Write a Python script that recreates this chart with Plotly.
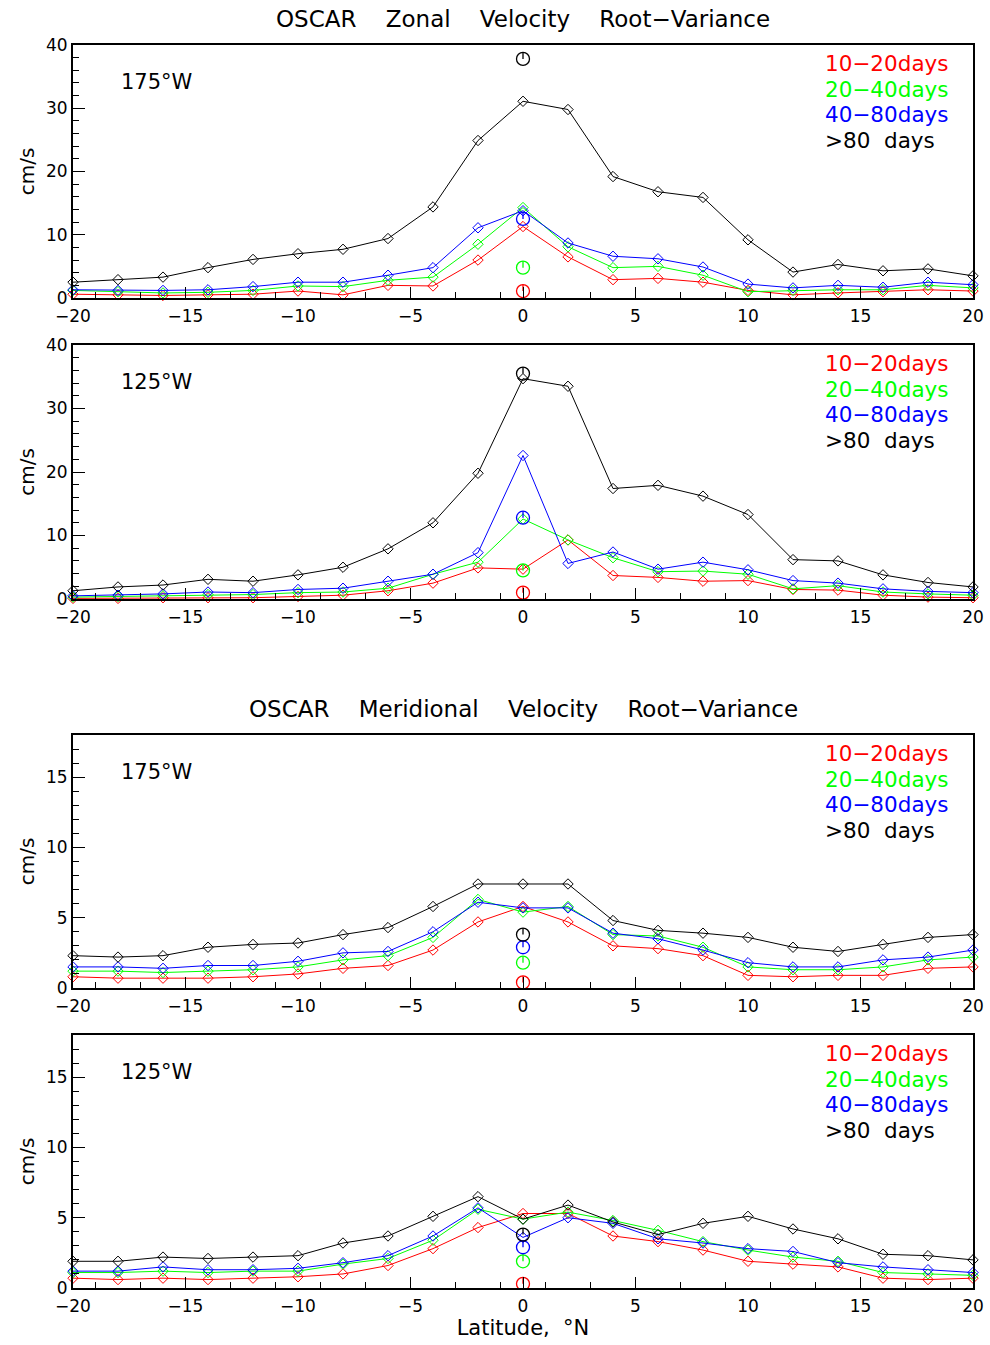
import plotly.graph_objects as go

# ---------------- data ----------------
lat = [-20, -18, -16, -14, -12, -10, -8, -6, -4, -2, 0, 2, 4, 6, 8, 10, 12, 14, 16, 18, 20]

series_names = ["10\u221220days", "20\u221240days", "40\u221280days", ">80\u00a0\u00a0days"]
series_colors = ["#ff0000", "#00ff00", "#0000ff", "#000000"]

# Zonal velocity root-variance, 175W (cm/s)
u175_10_20 = [0.6, 0.5, 0.4, 0.5, 0.6, 1.1, 0.5, 2.0, 1.9, 6.0, 11.3, 6.5, 2.9, 3.1, 2.5, 1.2, 0.5, 0.8, 1.0, 1.3, 1.1]
u175_20_40 = [1.2, 1.0, 0.8, 0.9, 1.2, 1.9, 1.8, 2.8, 3.3, 8.5, 14.3, 8.1, 4.8, 5.0, 3.6, 1.0, 1.2, 1.3, 1.3, 2.0, 1.6]
u175_40_80 = [1.3, 1.2, 1.2, 1.3, 1.8, 2.5, 2.5, 3.6, 4.8, 11.1, 13.8, 8.7, 6.6, 6.2, 4.9, 2.2, 1.6, 2.0, 1.7, 2.5, 2.1]
u175_gt80 = [2.5, 2.9, 3.3, 4.8, 6.1, 7.0, 7.7, 9.4, 14.4, 24.9, 31.1, 29.8, 19.2, 16.8, 15.9, 9.2, 4.1, 5.3, 4.3, 4.6, 3.5]
u175_eq_obs = [1.1, 4.8, 12.5, 37.8]

# Zonal velocity root-variance, 125W (cm/s)
u125_10_20 = [0.1, 0.1, 0.2, 0.2, 0.2, 0.4, 0.6, 1.3, 2.5, 4.9, 4.7, 9.3, 3.7, 3.4, 2.8, 2.9, 1.5, 1.4, 0.6, 0.3, 0.2]
u125_20_40 = [0.3, 0.4, 0.5, 0.7, 0.7, 1.0, 1.1, 1.7, 3.9, 5.8, 12.6, 9.3, 6.5, 4.3, 4.4, 3.9, 1.6, 2.1, 1.1, 0.8, 0.6]
u125_40_80 = [0.5, 0.6, 0.8, 1.1, 1.0, 1.5, 1.7, 2.8, 3.9, 7.3, 22.6, 5.6, 7.4, 4.7, 5.8, 4.6, 2.9, 2.5, 1.6, 1.2, 1.0]
u125_gt80 = [1.3, 1.9, 2.2, 3.1, 2.8, 3.8, 5.0, 7.9, 12.0, 19.8, 34.7, 33.5, 17.4, 17.9, 16.2, 13.3, 6.2, 6.0, 3.8, 2.6, 1.9]
u125_eq_obs = [1.0, 4.5, 12.8, 35.5]

# Meridional velocity root-variance, 175W (cm/s)
v175_10_20 = [0.8, 0.7, 0.7, 0.7, 0.8, 1.0, 1.4, 1.6, 2.7, 4.7, 5.8, 4.7, 3.0, 2.8, 2.3, 0.9, 0.8, 0.9, 0.9, 1.4, 1.5]
v175_20_40 = [1.2, 1.2, 1.1, 1.2, 1.3, 1.5, 2.0, 2.3, 3.6, 6.3, 5.4, 5.8, 3.8, 3.7, 2.9, 1.5, 1.3, 1.3, 1.5, 2.0, 2.2]
v175_40_80 = [1.5, 1.5, 1.4, 1.6, 1.6, 1.9, 2.5, 2.6, 4.0, 6.1, 5.7, 5.7, 3.9, 3.5, 2.7, 1.8, 1.5, 1.5, 2.0, 2.2, 2.7]
v175_gt80 = [2.3, 2.2, 2.3, 2.9, 3.1, 3.2, 3.8, 4.3, 5.8, 7.4, 7.4, 7.4, 4.8, 4.1, 3.9, 3.6, 2.9, 2.6, 3.1, 3.6, 3.8]
v175_eq_obs = [0.4, 1.8, 2.9, 3.8]

# Meridional velocity root-variance, 125W (cm/s)
v125_10_20 = [0.7, 0.6, 0.7, 0.6, 0.7, 0.8, 1.0, 1.6, 2.8, 4.3, 5.3, 5.3, 3.7, 3.3, 2.7, 1.9, 1.7, 1.5, 0.7, 0.6, 0.7]
v125_20_40 = [1.1, 1.1, 1.2, 1.1, 1.2, 1.2, 1.7, 2.1, 3.4, 5.6, 4.9, 5.4, 4.8, 4.1, 3.3, 2.7, 2.2, 1.9, 1.1, 1.0, 0.9]
v125_40_80 = [1.2, 1.2, 1.5, 1.3, 1.3, 1.4, 1.8, 2.3, 3.7, 5.7, 3.6, 5.0, 4.6, 3.5, 3.2, 2.8, 2.6, 1.8, 1.5, 1.3, 1.1]
v125_gt80 = [1.9, 1.9, 2.2, 2.1, 2.2, 2.3, 3.2, 3.7, 5.1, 6.5, 4.9, 5.9, 4.7, 3.8, 4.6, 5.1, 4.2, 3.5, 2.4, 2.3, 2.0]
v125_eq_obs = [0.3, 1.9, 2.9, 3.8]

equator = [0]

location_labels = ["175\u00b0W", "125\u00b0W", "175\u00b0W", "125\u00b0W"]
GAP = "\u00a0" * 4
titles = [GAP.join(["OSCAR", "Zonal", "Velocity", "Root\u2212Variance"]),
          GAP.join(["OSCAR", "Meridional", "Velocity", "Root\u2212Variance"])]
x_tick_vals = [-20, -15, -10, -5, 0, 5, 10, 15, 20]
x_long_ticks = [-15, -5, 0, 5, 15]

panel_series = [
    [u175_10_20, u175_20_40, u175_40_80, u175_gt80],
    [u125_10_20, u125_20_40, u125_40_80, u125_gt80],
    [v175_10_20, v175_20_40, v175_40_80, v175_gt80],
    [v125_10_20, v125_20_40, v125_40_80, v125_gt80],
]
panel_obs = [u175_eq_obs, u125_eq_obs, v175_eq_obs, v125_eq_obs]
panel_ymax = [40, 40, 18, 18]
panel_ymajor = [10, 10, 5, 5]
panel_yminor = [2, 2, 1, 1]

# ---------------- layout geometry ----------------
W, H = 990, 1345
ML, MR, MT, MB = 73, 17, 45, 57
plot_h = H - MT - MB
panel_px = [(45, 298), (345, 599), (735, 988), (1035, 1288)]  # top, bottom in page px


def py_to_paper(py):
    return (H - MB - py) / plot_h


FONT = "DejaVu Sans"
fig = go.Figure()
layout = dict(
    width=W, height=H, autosize=False,
    margin=dict(l=ML, r=MR, t=MT, b=MB, pad=0, autoexpand=False),
    paper_bgcolor="white", plot_bgcolor="white",
    showlegend=False,
    font=dict(family=FONT, color="black", size=18),
)
annotations = []
MARKER_R_PX = 6.5

for i in range(4):
    n = i + 1
    xa = "x" if n == 1 else f"x{n}"
    ya = "y" if n == 1 else f"y{n}"
    xo = f"x{n + 4}"
    top, bot = panel_px[i]
    dom = [py_to_paper(bot), py_to_paper(top)]
    ymax = panel_ymax[i]
    px_per_unit = (bot - top) / ymax

    for s in range(4):
        fig.add_trace(go.Scatter(
            x=lat, y=panel_series[i][s], xaxis=xa, yaxis=ya, mode="lines+markers",
            line=dict(color=series_colors[s], width=1),
            marker=dict(symbol="diamond-open", size=8, color=series_colors[s], line=dict(width=1)),
            hoverinfo="skip", cliponaxis=False,
        ))
    for s in range(4):
        fig.add_trace(go.Scatter(
            x=equator, y=[panel_obs[i][s]], xaxis=xo, yaxis=ya, mode="markers",
            marker=dict(symbol="circle-open", size=13, color=series_colors[s], line=dict(width=1.3)),
            error_y=dict(type="data", symmetric=False, array=[MARKER_R_PX / px_per_unit],
                         arrayminus=[0], width=0, thickness=1.3, color=series_colors[s]),
            hoverinfo="skip",
        ))

    layout["xaxis" if n == 1 else f"xaxis{n}"] = dict(
        domain=[0, 1], anchor=ya, range=[-20, 20], automargin=False,
        tickmode="array", tickvals=x_tick_vals,
        ticktext=[("\u2212" + str(-v)) if v < 0 else str(v) for v in x_tick_vals],
        ticks="", showgrid=False, zeroline=False, ticklabelstandoff=2,
        showline=True, linecolor="black", linewidth=2, mirror=True,
        tickfont=dict(size=17, family=FONT),
        minor=dict(tick0=-19, dtick=2, ticks="inside", ticklen=6, tickcolor="black", tickwidth=1),
    )
    layout[f"xaxis{n + 4}"] = dict(
        overlaying=xa, anchor=ya, range=[-20, 20], automargin=False,
        tickmode="array", tickvals=x_long_ticks, ticks="inside", ticklen=11,
        tickcolor="black", tickwidth=1, showticklabels=False,
        showgrid=False, zeroline=False, showline=False,
    )
    layout["yaxis" if n == 1 else f"yaxis{n}"] = dict(
        domain=dom, anchor=xa, range=[0, ymax], automargin=False,
        tickmode="linear", tick0=0, dtick=panel_ymajor[i],
        ticks="inside", ticklen=12, tickcolor="black", tickwidth=1,
        showgrid=False, zeroline=False,
        showline=True, linecolor="black", linewidth=2, mirror=True,
        tickfont=dict(size=17, family=FONT),
        minor=dict(dtick=panel_yminor[i], ticks="inside", ticklen=6, tickcolor="black", tickwidth=1),
        title=dict(text="cm/s", font=dict(size=20, family=FONT), standoff=6),
    )

    # location label
    annotations.append(dict(
        xref=f"{xa} domain", yref=f"{ya} domain", x=0.051, y=1 - 37 / (bot - top),
        xanchor="left", yanchor="middle", text=location_labels[i], showarrow=False,
        font=dict(size=21, family=FONT, color="black"),
    ))
    # legend text
    for s in range(4):
        off = 18.5 + s * 25.7
        annotations.append(dict(
            xref=f"{xa} domain", yref=f"{ya} domain", x=0.833, y=1 - off / (bot - top),
            xanchor="left", yanchor="middle", text=series_names[s], showarrow=False,
            font=dict(size=21.5, family=FONT, color=series_colors[s]),
        ))

layout["xaxis4"]["title"] = dict(text="Latitude,\u00a0\u00a0\u00b0N", font=dict(size=21, family=FONT), standoff=2)

annotations.append(dict(xref="paper", yref="paper", x=0.5, y=py_to_paper(19), xanchor="center",
                        yanchor="middle", text=titles[0], showarrow=False,
                        font=dict(size=23, family=FONT, color="black")))
annotations.append(dict(xref="paper", yref="paper", x=0.5, y=py_to_paper(709), xanchor="center",
                        yanchor="middle", text=titles[1], showarrow=False,
                        font=dict(size=23, family=FONT, color="black")))
layout["annotations"] = annotations

fig.update_layout(**layout)
fig.write_html("out.html")
